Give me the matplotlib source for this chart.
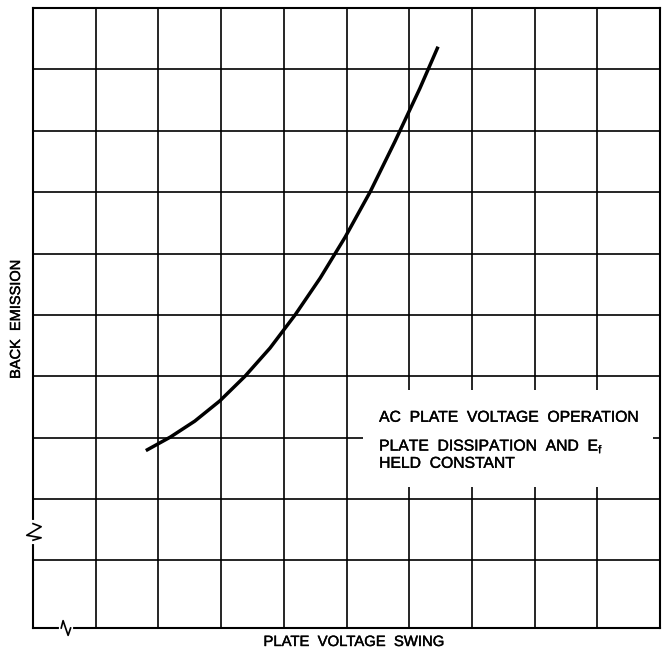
import numpy as np
import matplotlib.pyplot as plt
import matplotlib.patheffects as pe
from matplotlib.patches import Rectangle

# curve (grid units: 10 columns x 10 rows)
plate_swing = [1.80, 2.19, 2.58, 2.98, 3.38, 3.78, 4.18, 4.58, 4.98, 5.38, 5.77, 6.17, 6.46]
back_emission = [2.79, 3.01, 3.27, 3.60, 4.00, 4.46, 5.00, 5.60, 6.27, 7.01, 7.82, 8.69, 9.37]

grid_x = list(range(1, 10))
grid_y = list(range(1, 10))

note_lines = ["AC  PLATE  VOLTAGE  OPERATION",
              "PLATE  DISSIPATION  AND  E$_\\mathregular{f}$",
              "HELD  CONSTANT"]

plt.rcParams['font.family'] = ['Liberation Sans', 'DejaVu Sans']

# slightly heavier print look
ink = [pe.withStroke(linewidth=0.3, foreground='black')]

fig = plt.figure(figsize=(6.64, 6.52), dpi=100)
ax = fig.add_axes([33 / 664, 24 / 652, 627 / 664, 620 / 652])
ax.set_xlim(0, 10)
ax.set_ylim(-0.1, 10)
ax.set_xticks([])
ax.set_yticks([])

# grid
for gx in grid_x:
    ax.axvline(gx, color='black', lw=1.2, zorder=1)
for gy in grid_y:
    ax.axhline(gy, color='black', lw=1.2, zorder=1)
for side in ['top', 'right', 'left', 'bottom']:
    ax.spines[side].set_linewidth(1.5)

# white box behind the note
ax.add_patch(Rectangle((5.26, 2.2), 4.63, 1.58, facecolor='white',
                       edgecolor='none', zorder=2))

ax.plot(plate_swing, back_emission, color='black', lw=2.5,
        solid_capstyle='butt', solid_joinstyle='round', zorder=3)

for ty, line in zip([3.26, 2.79, 2.51], note_lines):
    ax.text(5.52, ty, line, fontsize=11.3, va='baseline', ha='left',
            zorder=4, path_effects=ink)

# axis break marks
ax.plot([0, 0], [1.30, 1.62], color='white', lw=3, clip_on=False, zorder=5)
ax.plot([0, 0.13, -0.1, 0.13, 0], [1.60, 1.55, 1.41, 1.37, 1.33],
        color='black', lw=1.2, clip_on=False, zorder=6)
ax.plot([0.45, 0.6], [-0.1, -0.1], color='white', lw=3, clip_on=False, zorder=5)
ax.plot([0.45, 0.48, 0.56, 0.60], [-0.1, 0.02, -0.22, -0.1],
        color='black', lw=1.2, clip_on=False, zorder=6)

fig.text(16 / 664, 1 - 319 / 652, "BACK  EMISSION", rotation=90, fontsize=10.5,
         ha='center', va='center', path_effects=ink)
fig.text(354 / 664, 1 - 642 / 652, "PLATE  VOLTAGE  SWING", fontsize=10.7,
         ha='center', va='center', path_effects=ink)

fig.savefig('out.png', dpi=100)
